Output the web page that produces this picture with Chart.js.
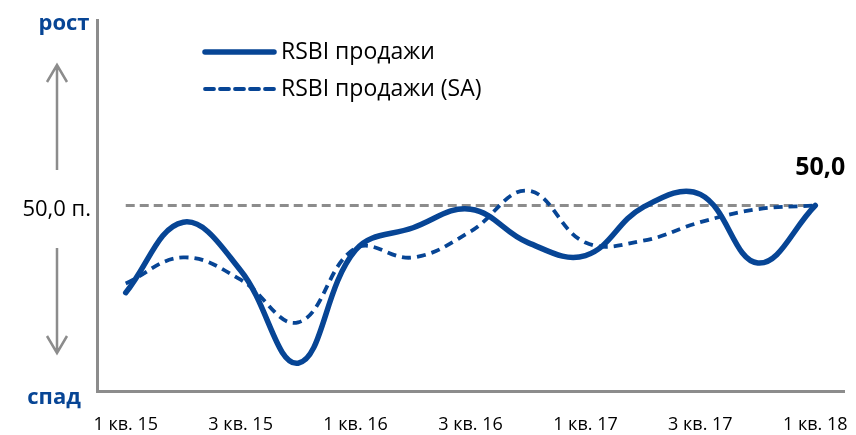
<!DOCTYPE html>
<html>
<head>
<meta charset="utf-8">
<script src="https://cdn.jsdelivr.net/npm/chart.js@4.4.0/dist/chart.umd.min.js"></script>
<style>
  html, body { margin: 0; padding: 0; background: #fff; }
  #wrap { width: 856px; height: 435px; }
</style>
</head>
<body>
<div id="wrap"><canvas id="grafico"></canvas></div>
<script>
const kvartaly = ['1 кв. 15', '2 кв. 15', '3 кв. 15', '4 кв. 15', '1 кв. 16', '2 кв. 16', '3 кв. 16',
                  '4 кв. 16', '1 кв. 17', '2 кв. 17', '3 кв. 17', '4 кв. 17', '1 кв. 18'];
const prodazhi   = [45.3, 49.1, 46.5, 41.5, 47.6, 48.8, 49.8, 48.0, 47.3, 49.9, 50.6, 46.9, 50.0];
const prodazhiSA = [45.8, 47.2, 46.0, 43.7, 47.7, 47.2, 48.6, 50.8, 48.0, 48.1, 49.1, 49.8, 50.0];
const porog      = [50.0, 50.0, 50.0, 50.0, 50.0, 50.0, 50.0, 50.0, 50.0, 50.0, 50.0, 50.0, 50.0];
const nazvaniya  = ['RSBI продажи', 'RSBI продажи (SA)'];

const AZUL = '#074595';
const GRIS = '#8c8c8c';
const FUENTE = '"Open Sans", "Noto Sans", sans-serif';

function flecha(ctx, x, y1, y2) {
  // y2 = punta
  const dir = y2 < y1 ? 1 : -1;
  ctx.beginPath();
  ctx.moveTo(x, y1); ctx.lineTo(x, y2);
  ctx.moveTo(x - 10, y2 + dir * 17); ctx.lineTo(x, y2); ctx.lineTo(x + 10, y2 + dir * 17);
  ctx.stroke();
}

const anotaciones = {
  id: 'anotaciones',
  afterDraw(chart) {
    const ctx = chart.ctx;
    const y50 = chart.scales.y.getPixelForValue(porog[0]);
    ctx.save();

    ctx.strokeStyle = GRIS;
    ctx.lineWidth = 2.5;
    flecha(ctx, 57, 170, 65);
    flecha(ctx, 57, 248, 353);

    ctx.fillStyle = AZUL;
    ctx.font = 'bold 22px ' + FUENTE;
    ctx.textAlign = 'center';
    ctx.textBaseline = 'alphabetic';
    ctx.fillText('рост', 64, 30);
    ctx.fillText('спад', 54, 404);

    ctx.fillStyle = '#000';
    ctx.font = '22px ' + FUENTE;
    ctx.textAlign = 'right';
    ctx.textBaseline = 'middle';
    ctx.fillText('50,0 п.', 91, y50 + 4);

    const ult = chart.getDatasetMeta(0).data[prodazhi.length - 1];
    ctx.font = 'bold 25px ' + FUENTE;
    ctx.textAlign = 'center';
    ctx.fillText(prodazhi[prodazhi.length - 1].toFixed(1).replace('.', ','), ult.x + 5, ult.y - 38);

    // leyenda
    const filas = [{ y: 52, ancho: 5.5, dash: [] }, { y: 89, ancho: 3.8, dash: [9, 6] }];
    filas.forEach((f, i) => {
      ctx.strokeStyle = AZUL;
      ctx.lineWidth = f.ancho;
      ctx.setLineDash(f.dash);
      ctx.lineCap = 'round';
      ctx.beginPath();
      ctx.moveTo(205, f.y); ctx.lineTo(274, f.y);
      ctx.stroke();
      ctx.setLineDash([]);
      ctx.fillStyle = '#000';
      ctx.font = '23px ' + FUENTE;
      ctx.textAlign = 'left';
      ctx.fillText(nazvaniya[i], 281, f.y);
    });
    ctx.restore();
  }
};

new Chart(document.getElementById('grafico'), {
  type: 'line',
  data: {
    labels: kvartaly,
    datasets: [
      { label: nazvaniya[0], data: prodazhi, borderColor: AZUL, borderWidth: 5.5,
        pointRadius: 0, tension: 0.4, borderCapStyle: 'round' },
      { label: nazvaniya[1], data: prodazhiSA, borderColor: AZUL, borderWidth: 3.8,
        borderDash: [9, 6], pointRadius: 0, tension: 0.4 },
      { label: 'порог', data: porog, borderColor: GRIS, borderWidth: 3,
        borderDash: [9, 5], pointRadius: 0, tension: 0 }
    ]
  },
  options: {
    responsive: true,
    maintainAspectRatio: false,
    animation: false,
    layout: { padding: { left: 97, top: 20, right: 12, bottom: 0 } },
    plugins: { legend: { display: false }, tooltip: { enabled: false } },
    scales: {
      x: {
        offset: true,
        grid: { display: false, drawTicks: false },
        border: { display: true, color: GRIS, width: 3 },
        afterFit: (axis) => { axis.height = 44; axis.paddingLeft = 0; axis.paddingRight = 0; },
        ticks: {
          autoSkip: false, maxRotation: 0, padding: 23,
          color: '#000', font: { family: FUENTE, size: 18 },
          callback: function (v, i) { return i % 2 === 0 ? this.getLabelForValue(v) : ''; }
        }
      },
      y: {
        min: 40, max: 60,
        grid: { display: false, drawTicks: false },
        border: { display: true, color: GRIS, width: 3 },
        ticks: { display: false }
      }
    }
  },
  plugins: [anotaciones]
});
</script>
</body>
</html>
